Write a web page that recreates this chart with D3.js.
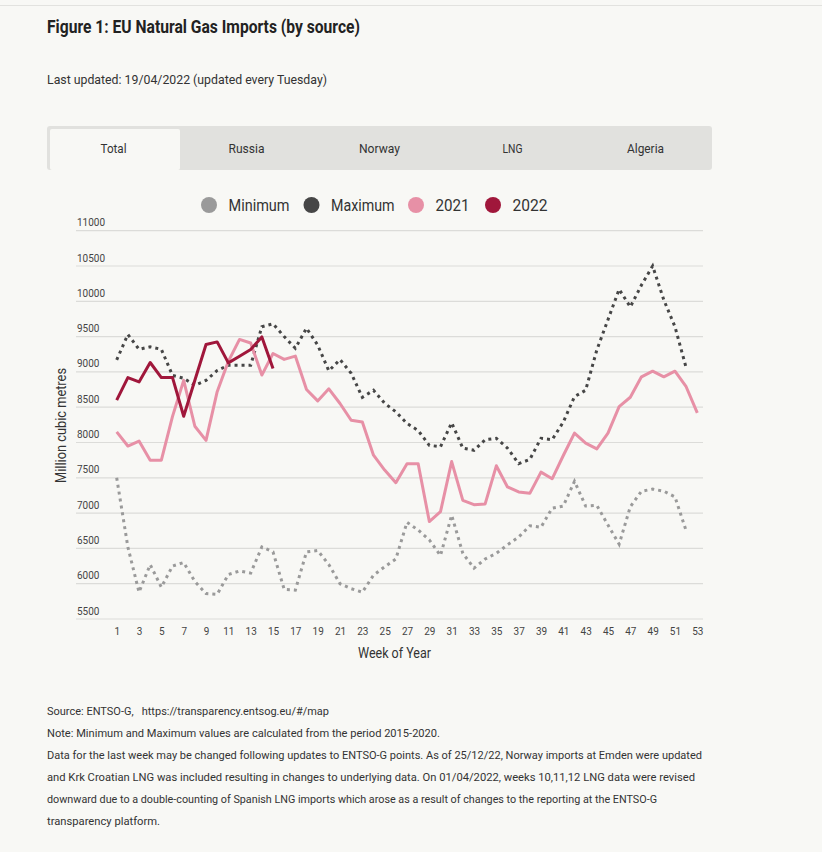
<!DOCTYPE html>
<html>
<head>
<meta charset="utf-8">
<script src="https://cdn.jsdelivr.net/npm/d3@7"></script>
<style>
  html, body { margin: 0; padding: 0; background: #f8f8f5; }
  svg { display: block; }
  text { font-family: Roboto, "Noto Sans", sans-serif; fill: #333; }
</style>
</head>
<body>
<svg id="chart" width="822" height="852"></svg>
<script>
// ---- Data ----
const weeks = [1,2,3,4,5,6,7,8,9,10,11,12,13,14,15,16,17,18,19,20,21,22,23,24,25,26,27,28,29,30,31,32,33,34,35,36,37,38,39,40,41,42,43,44,45,46,47,48,49,50,51,52,53];
const xTickLabels = [1,3,5,7,9,11,13,15,17,19,21,23,25,27,29,31,33,35,37,39,41,43,45,47,49,51,53];
const yTickLabels = [5500,6000,6500,7000,7500,8000,8500,9000,9500,10000,10500,11000];
const tabs = ["Total","Russia","Norway","LNG","Algeria"];
const seriesNames = ["Minimum","Maximum","2021","2022"];

const minimum = [7500,6520,5880,6270,5950,6250,6300,6030,5860,5850,6130,6180,6150,6520,6450,5920,5910,6450,6470,6270,6000,5930,5880,6120,6240,6350,6870,6760,6620,6400,6970,6430,6220,6350,6430,6550,6660,6820,6800,7070,7100,7450,7100,7110,6830,6560,7090,7310,7340,7310,7230,6750];
const maximum = [9170,9530,9320,9355,9320,8950,8910,8810,8880,9020,9095,9095,9095,9640,9680,9500,9335,9620,9380,9015,9175,8980,8640,8740,8555,8435,8270,8170,7960,7940,8280,7920,7890,8040,8060,7920,7700,7760,8060,8040,8290,8650,8740,9310,9740,10170,9920,10230,10500,10020,9640,9060];
const y2021 = [8150,7950,8020,7750,7750,8370,8880,8230,8030,8720,9150,9460,9410,8955,9260,9177,9224,8750,8589,8760,8552,8315,8290,7820,7610,7430,7700,7700,6880,7020,7730,7180,7120,7130,7670,7370,7300,7280,7580,7486,7816,8132,7990,7910,8132,8509,8641,8930,9010,8930,9010,8790,8420];
const y2022 = [8599,8920,8858,9133,8920,8920,8372,8882,9388,9425,9128,9222,9317,9496,9048];

const colors = { "Minimum": "#9a9a9a", "Maximum": "#464646", "2021": "#e790a6", "2022": "#a0173b" };

// condense text to a measured width (reference uses a condensed face)
function fit(sel, w) {
  sel.attr("textLength", w).attr("lengthAdjust", "spacingAndGlyphs");
  return sel;
}

// ---- Layout ----
const svg = d3.select("#chart");
const W = 822;

svg.append("line").attr("x1", 0).attr("x2", W).attr("y1", 5.5).attr("y2", 5.5)
  .attr("stroke", "#e2e2df").attr("stroke-width", 1);

fit(svg.append("text").attr("x", 47).attr("y", 33)
  .attr("font-size", 19).attr("font-weight", "bold").style("fill", "#222")
  .text("Figure 1: EU Natural Gas Imports (by source)"), 313);

fit(svg.append("text").attr("x", 47).attr("y", 84)
  .attr("font-size", 13).style("fill", "#333")
  .text("Last updated: 19/04/2022 (updated every Tuesday)"), 280);

// Tabs
const tabX = 47, tabY = 126, tabW = 665, tabH = 44;
svg.append("rect").attr("x", tabX).attr("y", tabY).attr("width", tabW).attr("height", tabH)
  .attr("rx", 3).attr("fill", "#e1e1de");
const tabScale = d3.scaleBand().domain(tabs).range([tabX, tabX + tabW]);
svg.append("rect").attr("x", tabScale("Total") + 3).attr("y", tabY + 3)
  .attr("width", tabScale.bandwidth() - 3).attr("height", tabH - 3)
  .attr("rx", 2).attr("fill", "#f8f8f5");
const tabWidths = { "Total": 26, "Russia": 36, "Norway": 41, "LNG": 20, "Algeria": 37 };
tabs.forEach(t => {
  fit(svg.append("text")
    .attr("x", tabScale(t) + tabScale.bandwidth() / 2)
    .attr("y", 153).attr("text-anchor", "middle").attr("font-size", 13)
    .style("fill", "#333").text(t), tabWidths[t]);
});

// Legend
const legendPos = { "Minimum": 209, "Maximum": 311.5, "2021": 416, "2022": 493 };
const legendW = { "Minimum": 61, "Maximum": 63.5, "2021": 34, "2022": 35 };
seriesNames.forEach(n => {
  svg.append("circle").attr("cx", legendPos[n]).attr("cy", 205).attr("r", 8).attr("fill", colors[n]);
  fit(svg.append("text").attr("x", legendPos[n] + 19.5).attr("y", 210.5).attr("font-size", 16)
    .style("fill", "#333").text(n), legendW[n]);
});

// Scales
const x = d3.scaleLinear().domain([1, 53]).range([116.7, 697.3]);
const y = d3.scaleLinear().domain([5500, 11000]).range([619, 230.7]);

// Gridlines + y labels
const grid = svg.append("g");
grid.selectAll("line").data(yTickLabels).enter().append("line")
  .attr("x1", 76).attr("x2", 703)
  .attr("y1", d => y(d)).attr("y2", d => y(d))
  .attr("stroke", "#dcdcd9").attr("stroke-width", 1.2);
grid.selectAll("text").data(yTickLabels).enter().append("text")
  .attr("x", 77).attr("y", d => y(d) - 4.5)
  .attr("font-size", 11).style("fill", "#444")
  .attr("textLength", d => String(d).length * 5.6).attr("lengthAdjust", "spacingAndGlyphs")
  .text(d => d);

// X axis labels
const xa = svg.append("g").attr("transform", "translate(0,635)");
const xAxis = d3.axisBottom(x).tickValues(xTickLabels).tickSize(0).tickPadding(0).tickFormat(d3.format("d"));
xa.call(xAxis);
xa.select(".domain").remove();
xa.selectAll("text").attr("font-size", 11).style("fill", "#444")
  .style("font-family", "Roboto, sans-serif")
  .attr("dy", 0).attr("y", 0)
  .attr("textLength", d => String(d).length * 5.6).attr("lengthAdjust", "spacingAndGlyphs");

fit(svg.append("text").attr("x", 394.5).attr("y", 658).attr("text-anchor", "middle")
  .attr("font-size", 14).style("fill", "#333").text("Week of Year"), 73);

fit(svg.append("text").attr("transform", "translate(66,425.5) rotate(-90)")
  .attr("text-anchor", "middle").attr("font-size", 14).style("fill", "#333")
  .text("Million cubic metres"), 115);

// Lines
const line = d3.line().x((d, i) => x(weeks[i])).y(d => y(d));
const plot = svg.append("g");
plot.append("path").datum(minimum).attr("d", line).attr("fill", "none")
  .attr("stroke", colors["Minimum"]).attr("stroke-width", 3).attr("stroke-dasharray", "3,4");
plot.append("path").datum(maximum).attr("d", line).attr("fill", "none")
  .attr("stroke", colors["Maximum"]).attr("stroke-width", 3).attr("stroke-dasharray", "3,4");
plot.append("path").datum(y2021).attr("d", line).attr("fill", "none")
  .attr("stroke", colors["2021"]).attr("stroke-width", 3).attr("stroke-linejoin", "round");
plot.append("path").datum(y2022).attr("d", line).attr("fill", "none")
  .attr("stroke", colors["2022"]).attr("stroke-width", 3).attr("stroke-linejoin", "round");

// Footer notes
const notes = [
  "Source: ENTSO-G,   https://transparency.entsog.eu/#/map",
  "Note: Minimum and Maximum values are calculated from the period 2015-2020.",
  "Data for the last week may be changed following updates to ENTSO-G points. As of 25/12/22, Norway imports at Emden were updated",
  "and Krk Croatian LNG was included resulting in changes to underlying data. On 01/04/2022, weeks 10,11,12 LNG data were revised",
  "downward due to a double-counting of Spanish LNG imports which arose as a result of changes to the reporting at the ENTSO-G",
  "transparency platform."
];
const noteW = [282, 393, 655, 648, 610, 113];
notes.forEach((t, i) => {
  fit(svg.append("text").attr("x", 47).attr("y", 715 + i * 22)
    .attr("font-size", 11.5).style("fill", "#333").style("white-space", "pre").attr("xml:space", "preserve")
    .text(t), noteW[i]);
});
</script>
</body>
</html>
